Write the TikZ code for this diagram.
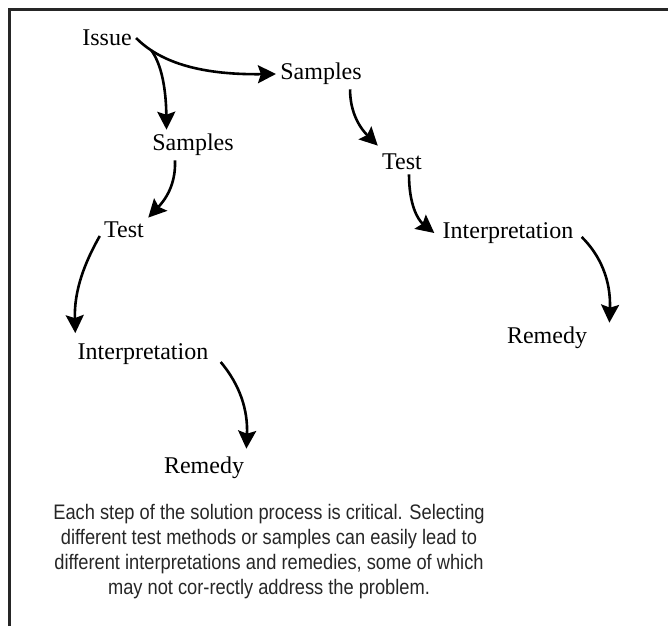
\documentclass[tikz,border=0pt]{standalone}
\usepackage{fontspec}
\setmainfont{Liberation Serif}
\newfontfamily\notefont[FakeStretch=0.87]{Liberation Sans}
\usetikzlibrary{arrows.meta,positioning}
\tikzset{
	steplabel/.style={font=\fontsize{12}{14}\selectfont,inner sep=2pt},
	flow/.style={line width=1.3pt,-{Stealth[length=9pt,width=9pt,inset=1.5pt]}},
	notetext/.style={font=\notefont\fontsize{10.5}{12.5}\selectfont,align=center,text=black!85},
}

\begin{document}
\begin{tikzpicture}[x=0.5pt,y=-0.5pt]
		\useasboundingbox (0,0) rectangle (668,626);
		\draw[black!85,line width=1.5pt] (9,626) -- (9,10) -- (668,10);
		\node[steplabel] (issue) at (107,38) {Issue};
		\node[steplabel] (samplesR) at (321,74) {Samples};
		\node[steplabel] (samplesL) at (193,145) {Samples};
		\node[steplabel] (testL) at (124,230) {Test};
		\node[steplabel] (interpL) at (143,354) {Interpretation};
		\node[steplabel] (remedyL) at (204,468) {Remedy};
		\node[steplabel] (testR) at (402,162) {Test};
		\node[steplabel] (interpR) at (508,233) {Interpretation};
		\node[steplabel] (remedyR) at (547,338) {Remedy};
		\draw[flow] (issue.east) .. controls (158,60) and (195,75) .. coordinate[pos=0.2] (fork) (samplesR.west);
		\draw[flow] (fork) .. controls (162,65) and (166,90) .. (samplesL.150);
		\draw[flow] ([xshift=-9pt]samplesL.south) .. controls (176,185) and (165,200) .. (testL.north east);
		\draw[flow] ([yshift=-3pt]testL.west) .. controls (85,262) and (74,290) .. ([xshift=1pt,yshift=3pt]interpL.north west);
		\draw[flow] ([xshift=4pt,yshift=-4pt]interpL.east) .. controls (240,385) and (248,410) .. ([xshift=-1pt,yshift=2pt]remedyL.north east);
		\draw[flow] ([xshift=-8pt]samplesR.south east) .. controls (350,115) and (362,130) .. ([yshift=2pt]testR.north west);
		\draw[flow] ([xshift=3.5pt]testR.south) .. controls (409,205) and (418,220) .. ([xshift=-2pt]interpR.west);
		\draw[flow] ([xshift=2pt,yshift=-2pt]interpR.east) .. controls (600,255) and (611,280) .. ([xshift=9pt]remedyR.north east);
		\node[notetext] (note) at (269,552) {Each step of the solution process is critical. Selecting\\different test methods or samples can easily lead to\\different interpretations and remedies, some of which\\may not cor-rectly address the problem.};
\end{tikzpicture}
\end{document}
